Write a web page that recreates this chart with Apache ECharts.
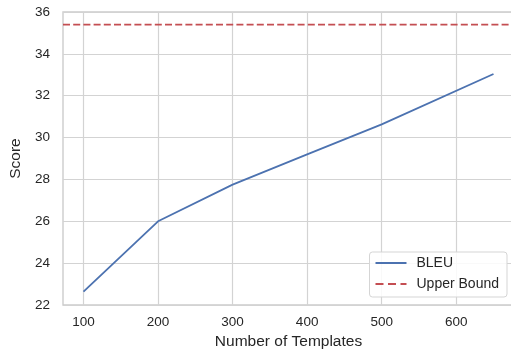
<!DOCTYPE html>
<html>
<head>
<meta charset="utf-8">
<script src="https://cdn.jsdelivr.net/npm/echarts@6/dist/echarts.min.js"></script>
<style>html,body{margin:0;padding:0;background:#fff}#c{width:511px;height:351px}</style>
</head>
<body>
<div id="c"></div>
<script>
const templates = [100, 200, 300, 400, 500, 650];
const bleu = [22.64, 26.0, 27.75, 29.2, 30.63, 33.04];
const upperBound = 35.4;
const xTicks = [100, 200, 300, 400, 500, 600];
const yTicks = [22, 24, 26, 28, 30, 32, 34, 36];
const xMin = 72.5, xMax = 677.5;

const chart = echarts.init(document.getElementById('c'), null, {renderer: 'canvas'});
const font = 'Liberation Sans, Arial, sans-serif';
const txt = '#262626';
chart.setOption({
  animation: false,
  backgroundColor: '#fff',
  grid: {left: 63, top: 12, width: 451, height: 293, containLabel: false, outerBoundsMode: 'none',
         show: true, borderColor: '#cccccc', borderWidth: 1.4, backgroundColor: 'transparent'},
  xAxis: {
    type: 'value', min: xMin, max: xMax,
    name: 'Number of Templates', nameLocation: 'middle', nameGap: 29,
    nameTextStyle: {fontFamily: font, fontSize: 15.5, color: txt},
    axisLine: {show: false},
    axisTick: {show: false, customValues: xTicks},
    axisLabel: {customValues: xTicks, fontFamily: font, fontSize: 13.5, color: txt, margin: 10},
    splitLine: {show: true, lineStyle: {color: '#d3d3d3', width: 1.2}}
  },
  yAxis: {
    type: 'value', min: yTicks[0], max: yTicks[yTicks.length - 1], interval: 2,
    name: 'Score', nameLocation: 'middle', nameGap: 31,
    nameTextStyle: {fontFamily: font, fontSize: 15.5, color: txt},
    axisLine: {show: false},
    axisTick: {show: false},
    axisLabel: {fontFamily: font, fontSize: 13.5, color: txt, margin: 13},
    splitLine: {show: true, lineStyle: {color: '#d3d3d3', width: 1.2}}
  },
  legend: {
    orient: 'vertical', right: 4, bottom: 54,
    backgroundColor: 'rgba(255,255,255,0.85)', borderColor: '#d5d5d5', borderWidth: 1, borderRadius: 3,
    padding: [4, 8, 6, 5], itemWidth: 31, itemHeight: 14, itemGap: 7,
    itemStyle: {color: 'rgba(0,0,0,0)', borderWidth: 0, borderColor: 'rgba(0,0,0,0)'},
    textStyle: {fontFamily: font, fontSize: 14, color: txt, padding: [0, 0, 0, 5]},
    data: [
      {name: 'BLEU'},
      {name: 'Upper Bound', lineStyle: {type: [8, 4.5]}}
    ]
  },
  series: [
    {name: 'BLEU', type: 'line', symbol: 'none', data: templates.map((t, i) => [t, bleu[i]]),
     lineStyle: {color: '#4c72b0', width: 1.8}, itemStyle: {color: '#4c72b0'}},
    {name: 'Upper Bound', type: 'line', symbol: 'none', data: [[xMin, upperBound], [xMax, upperBound]],
     lineStyle: {color: '#c44e52', width: 1.8, type: [7, 3.2]}, itemStyle: {color: '#c44e52'}}
  ]
});
</script>
</body>
</html>
